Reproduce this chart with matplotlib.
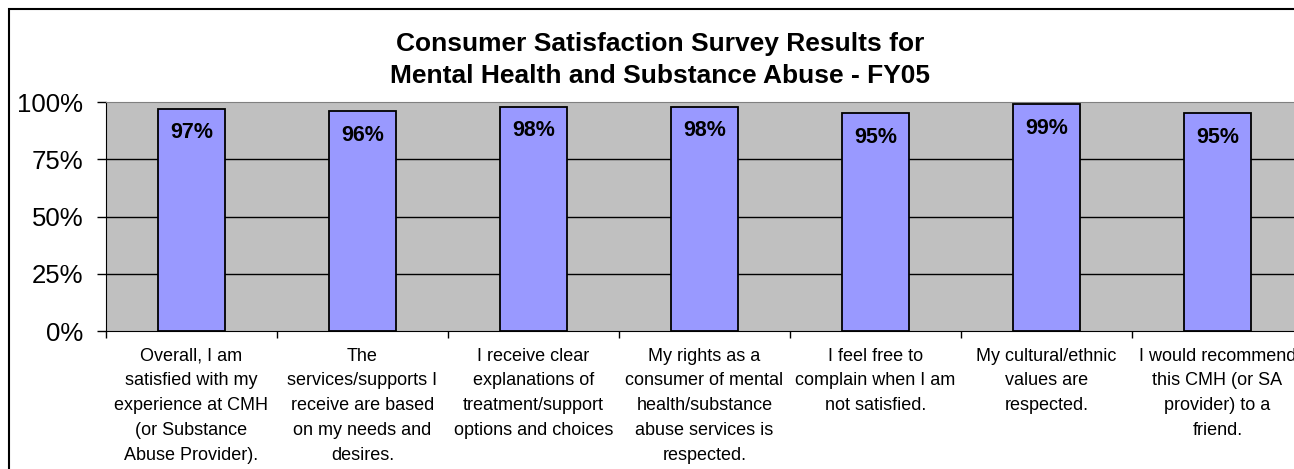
import matplotlib.pyplot as plt
from matplotlib.patches import Rectangle
from matplotlib.ticker import FuncFormatter

questions = [
    'Overall, I am\nsatisfied with my\nexperience at CMH\n(or Substance\nAbuse Provider).',
    'The\nservices/supports I\nreceive are based\non my needs and\ndesires.',
    'I receive clear\nexplanations of\ntreatment/support\noptions and choices',
    'My rights as a\nconsumer of mental\nhealth/substance\nabuse services is\nrespected.',
    'I feel free to\ncomplain when I am\nnot satisfied.',
    'My cultural/ethnic\nvalues are\nrespected.',
    'I would recommend\nthis CMH (or SA\nprovider) to a\nfriend.',
]
satisfied = [97, 96, 98, 98, 95, 99, 95]
yticks = [0, 25, 50, 75, 100]

title = 'Consumer Satisfaction Survey Results for\nMental Health and Substance Abuse - FY05'

font      = 'Liberation Sans'
plot_bg   = '#C0C0C0'
bar_color = '#9999FF'

###############################################################################

plt.rcParams['font.family'] = [font, 'DejaVu Sans']

W, H = 1294, 469
fig = plt.figure(figsize=(W / 100, H / 100), dpi=100)
fig.patch.set_facecolor('white')

ax = fig.add_axes([106 / W, 1 - 331 / H, (1303 - 106) / W, (331 - 102) / H])
ax.set_facecolor(plot_bg)

x = list(range(len(satisfied)))
ax.bar(x, satisfied, width=0.39, color=bar_color, edgecolor='black',
       linewidth=1.3, zorder=3)

for xi, v in zip(x, satisfied):
    ax.annotate(f'{v}%', (xi, v), xytext=(0, -24), textcoords='offset pixels',
                ha='center', va='center', fontsize=15.5, fontweight='bold',
                zorder=4)

ax.set_xlim(-0.5, len(satisfied) - 0.5)
ax.set_ylim(0, 100)

ax.set_yticks(yticks)
ax.yaxis.set_major_formatter(FuncFormatter(lambda v, p: f'{v:.0f}%'))
ax.tick_params(axis='y', labelsize=18.5, length=6.5, width=1, pad=10)

ax.set_xticks(x)
ax.set_xticklabels(questions, fontsize=13, linespacing=1.6)
ax.set_xticks([i - 0.5 for i in range(len(satisfied) + 1)], minor=True)
ax.tick_params(axis='x', which='major', length=0, pad=12)
ax.tick_params(axis='x', which='minor', length=5, width=1)

for g in yticks[1:-1]:
    ax.axhline(g, color='black', linewidth=1, zorder=1)

ax.spines['top'].set_color('#808080')
ax.spines['right'].set_visible(False)
ax.spines['left'].set_color('black')
ax.spines['bottom'].set_color('black')

fig.text(660 / W, 1 - 60 / H, title, ha='center', va='center',
         fontsize=19, fontweight='bold', linespacing=1.4)

fig.patches.append(Rectangle((9 / W, -0.1), 1.2, 1 - 9 / H + 0.1,
                             transform=fig.transFigure, fill=False,
                             edgecolor='black', linewidth=1.5))

fig.savefig('out.png', dpi=100, facecolor=fig.get_facecolor())
